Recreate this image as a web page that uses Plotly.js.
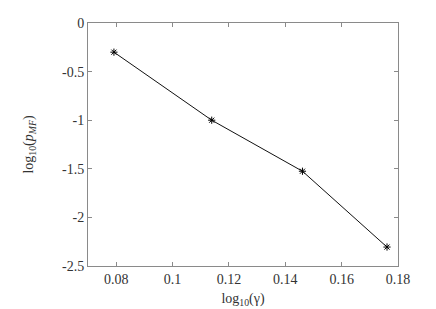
<!DOCTYPE html>
<html>
<head>
<meta charset="utf-8">
<script src="https://cdn.plot.ly/plotly-3.0.1.min.js"></script>
<style>html,body{margin:0;padding:0;background:#fff;}#plot{width:436px;height:309px;}</style>
</head>
<body>
<div id="plot"></div>
<script>
var logGamma = [0.0792, 0.1139, 0.1461, 0.1761];
var logPMF = [-0.30, -1.00, -1.525, -2.305];
var xTickVals = [0.08, 0.10, 0.12, 0.14, 0.16, 0.18];
var xTickText = ["0.08", "0.1", "0.12", "0.14", "0.16", "0.18"];
var yTickVals = [0, -0.5, -1, -1.5, -2, -2.5];
var yTickText = ["0", "-0.5", "-1", "-1.5", "-2", "-2.5"];

var font = {family: "Liberation Serif", size: 14, color: "#333"};
var trace = {
  x: logGamma, y: logPMF, type: "scatter", mode: "lines+markers",
  line: {color: "#111", width: 1},
  marker: {symbol: "asterisk-open", size: 6, color: "#000", line: {color: "#000", width: 1}},
  showlegend: false
};
var axisCommon = {
  showline: true, linecolor: "#8a8a8a", linewidth: 1, mirror: "ticks",
  ticks: "inside", ticklen: 4, tickcolor: "#8a8a8a", showgrid: false, zeroline: false,
  tickmode: "array", tickfont: font
};
var layout = {
  width: 436, height: 309,
  margin: {l: 88, r: 38, t: 23, b: 43},
  paper_bgcolor: "#fff", plot_bgcolor: "#fff",
  font: font,
  xaxis: Object.assign({}, axisCommon, {
    range: [0.07, 0.18], tickvals: xTickVals, ticktext: xTickText,
    title: {text: "log<sub>10</sub>(γ)", font: font, standoff: 7}
  }),
  yaxis: Object.assign({}, axisCommon, {
    range: [-2.5, 0], tickvals: yTickVals, ticktext: yTickText,
    title: {text: "log<sub>10</sub>(<i>p<sub>MF</sub></i>)", font: font, standoff: 25}
  })
};
Plotly.newPlot("plot", [trace], layout, {staticPlot: true, displayModeBar: false});
</script>
</body>
</html>
